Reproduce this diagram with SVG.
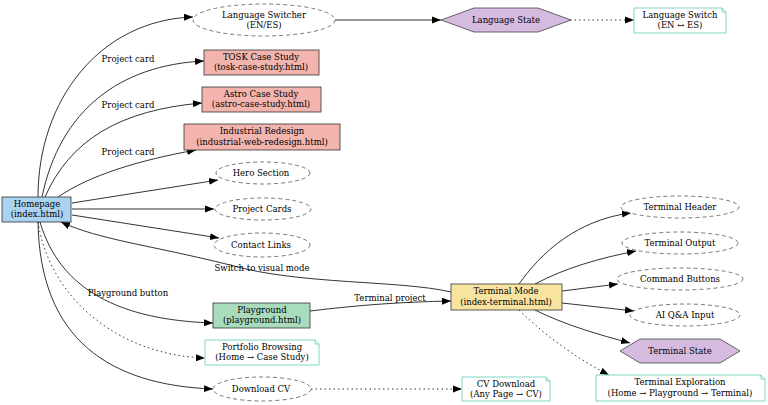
<svg xmlns="http://www.w3.org/2000/svg" width="768" height="405" viewBox="0 0 768 405">
<style>
text{font-family:"DejaVu Serif","Liberation Serif",serif;font-size:8.5px;fill:#000;text-anchor:middle}
.e{fill:none;stroke:#000;stroke-width:0.8}
.d{stroke-dasharray:1.5,3}
.ell{fill:#fff;stroke:#555;stroke-width:0.8;stroke-dasharray:4,3}
.pink{fill:#f4b4ae;stroke:#333;stroke-width:0.8}
.note{fill:#fff;stroke:#7fd6c4;stroke-width:1}
.hex{fill:#d6bbe0;stroke:#444;stroke-width:0.8}
</style>
<defs><marker id="a" markerWidth="10" markerHeight="8" refX="9" refY="4" orient="auto" markerUnits="userSpaceOnUse"><path d="M0,0.5 L9,4 L0,7.5z" fill="#000"/></marker></defs>
<g id="connectors">
<path class="e" marker-end="url(#a)" d="M38,197 C38,100 100,20 193,17"/>
<path class="e" marker-end="url(#a)" d="M335,20 L441,20"/>
<path class="e d" marker-end="url(#a)" d="M570,20 L634,20"/>
<path class="e" marker-end="url(#a)" d="M42,197 C60,110 120,65 204,61"/>
<path class="e" marker-end="url(#a)" d="M45,197 C70,140 120,110 202,103"/>
<path class="e" marker-end="url(#a)" d="M58,197 C90,175 140,160 196,150"/>
<path class="e" marker-end="url(#a)" d="M72,203 L218,180"/>
<path class="e" marker-end="url(#a)" d="M72,209 L214,209"/>
<path class="e" marker-end="url(#a)" d="M72,215 L219,238"/>
<path class="e" marker-end="url(#a)" d="M451,292 C400,280 300,285 230,265 C150,245 100,240 61,222"/>
<path class="e" marker-end="url(#a)" d="M40,222 C60,290 120,320 213,323"/>
<path class="e d" marker-end="url(#a)" d="M38,222 C50,300 120,355 205,358"/>
<path class="e" marker-end="url(#a)" d="M38,222 C40,340 110,385 213,389"/>
<path class="e d" marker-end="url(#a)" d="M311,389 L462,389"/>
<path class="e" marker-end="url(#a)" d="M310,311 C360,305 400,302 451,301"/>
<path class="e" marker-end="url(#a)" d="M519,284 C550,240 590,218 631,213"/>
<path class="e" marker-end="url(#a)" d="M535,284 C565,268 600,258 636,251"/>
<path class="e" marker-end="url(#a)" d="M562,291 L618,284"/>
<path class="e" marker-end="url(#a)" d="M562,303 L634,311"/>
<path class="e" marker-end="url(#a)" d="M535,310 C565,325 600,335 630,343"/>
<path class="e d" marker-end="url(#a)" d="M519,310 C550,340 580,360 609,375"/>
</g>
<text x="128" y="62">Project card</text>
<text x="128" y="108">Project card</text>
<text x="128" y="155">Project card</text>
<text x="262" y="271">Switch to visual mode</text>
<text x="128" y="296">Playground button</text>
<text x="390" y="301">Terminal project</text>
<g id="homepage"><rect x="2" y="197" width="69" height="25" fill="#a9d3ef" stroke="#333" stroke-width="0.8"/><text x="37" y="207">Homepage</text><text x="37" y="217">(index.html)</text></g>
<g id="langswitcher"><ellipse cx="264" cy="20" rx="71" ry="16" class="ell"/><text x="264" y="18">Language Switcher</text><text x="264" y="28">(EN/ES)</text></g>
<g id="langstate"><polygon class="hex" points="441,20 474,8 538,8 571,20 538,32 474,32"/><text x="506" y="23">Language State</text></g>
<g id="langnote"><path class="note" d="M634,8 H722 L726,12 V33 H634z M722,8 V12 H726"/><text x="680" y="18">Language Switch</text><text x="680" y="28">(EN ↔ ES)</text></g>
<g id="tosk"><rect class="pink" x="204" y="50" width="115" height="25"/><text x="261" y="60">TOSK Case Study</text><text x="261" y="70">(tosk-case-study.html)</text></g>
<g id="astro"><rect class="pink" x="202" y="87" width="119" height="25"/><text x="261" y="97">Astro Case Study</text><text x="261" y="107">(astro-case-study.html)</text></g>
<g id="industrial"><rect class="pink" x="184" y="124" width="156" height="26"/><text x="262" y="134">Industrial Redesign</text><text x="262" y="145">(industrial-web-redesign.html)</text></g>
<g id="hero"><ellipse class="ell" cx="263" cy="173" rx="47" ry="11"/><text x="261" y="176">Hero Section</text></g>
<g id="cards"><ellipse class="ell" cx="263" cy="209" rx="48" ry="11"/><text x="262" y="212">Project Cards</text></g>
<g id="contact"><ellipse class="ell" cx="262" cy="245" rx="48" ry="12"/><text x="261" y="248">Contact Links</text></g>
<g id="playground"><rect x="213" y="303" width="97" height="25" fill="#a8dcbc" stroke="#333" stroke-width="0.8"/><text x="262" y="313">Playground</text><text x="262" y="323">(playground.html)</text></g>
<g id="portfolio"><path class="note" d="M205,340 H315 L319,344 V365 H205z M315,340 V344 H319"/><text x="262" y="350">Portfolio Browsing</text><text x="262" y="360">(Home → Case Study)</text></g>
<g id="downloadcv"><ellipse class="ell" cx="262" cy="389" rx="49" ry="12"/><text x="261" y="392">Download CV</text></g>
<g id="cvnote"><path class="note" d="M462,377 H546 L550,381 V401 H462z M546,377 V381 H550"/><text x="506" y="387">CV Download</text><text x="506" y="397">(Any Page → CV)</text></g>
<g id="terminal"><rect x="451" y="284" width="111" height="26" fill="#f8e4a0" stroke="#333" stroke-width="0.8"/><text x="506" y="294">Terminal Mode</text><text x="506" y="305">(index-terminal.html)</text></g>
<g id="theader"><ellipse class="ell" cx="680" cy="207" rx="59" ry="11"/><text x="680" y="210">Terminal Header</text></g>
<g id="toutput"><ellipse class="ell" cx="680" cy="243" rx="58" ry="11"/><text x="680" y="246">Terminal Output</text></g>
<g id="tcommands"><ellipse class="ell" cx="680" cy="279" rx="63" ry="11"/><text x="680" y="282">Command Buttons</text></g>
<g id="tai"><ellipse class="ell" cx="685" cy="315" rx="55" ry="11"/><text x="685" y="318">AI Q&amp;A Input</text></g>
<g id="tstate"><polygon class="hex" points="620,351 640,339 720,339 740,351 720,363 640,363"/><text x="680" y="354">Terminal State</text></g>
<g id="tnote"><path class="note" d="M596,375 H761 L765,379 V401 H596z M761,375 V379 H765"/><text x="680" y="385">Terminal Exploration</text><text x="680" y="396">(Home → Playground → Terminal)</text></g>
</svg>
